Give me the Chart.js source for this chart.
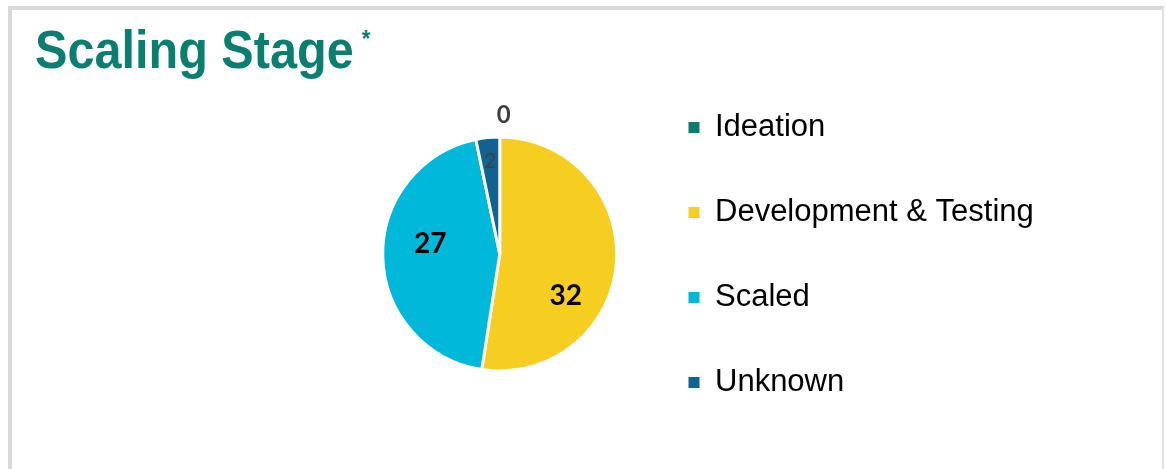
<!DOCTYPE html>
<html>
<head>
<meta charset="utf-8">
<script src="https://cdn.jsdelivr.net/npm/chart.js@4.4.1/dist/chart.umd.min.js"></script>
<style>
  html, body { margin: 0; padding: 0; background: #fff; }
  body { width: 1166px; height: 469px; position: relative; overflow: hidden; }
  .frame {
    position: absolute; left: 8px; top: 6px; width: 1150px; height: 470px;
    border-top: 4px solid #d9d9d9; border-left: 4px solid #d9d9d9; border-right: 2px solid #e0e0e0;
  }
  .title {
    position: absolute; left: 35px; top: 14px; margin: 0;
    font-family: "Liberation Sans", Arial, sans-serif; font-weight: bold;
    font-size: 54px; line-height: 54px; color: #0b7f6f; white-space: nowrap;
    transform: scaleX(0.9); transform-origin: 0 0;
  }
  .title sup { font-size: 24px; position: relative; top: -2px; margin-left: 9px; }
  #chart { position: absolute; left: 0; top: 0; }
</style>
</head>
<body>
<div class="frame"></div>
<h1 class="title">Scaling Stage<sup>*</sup></h1>
<canvas id="chart" width="1166" height="469"></canvas>
<script>
const stages = ["Ideation", "Development & Testing", "Scaled", "Unknown"];
const counts = [0, 32, 27, 2];
const stageColors = ["#0e7c6c", "#f5ce21", "#00b9da", "#12628f"];

// where each value label sits: fraction along the slice angle, fraction of radius
const labelSpots = [
  { at: 0.5, r: 1.19, dx: 4, color: "#404040", weight: "bold", size: 24 },
  { at: 0.65, r: 0.67, dx: 0, color: "#000000", weight: "bold", size: 28 },
  { at: 0.56, r: 0.6, dx: 0, color: "#000000", weight: "bold", size: 28 },
  { at: 0.5, r: 0.8, dx: 0, color: "#404040", weight: "normal", size: 21 },
];

const valueLabels = {
  id: "valueLabels",
  afterDatasetsDraw(chart) {
    const { ctx } = chart;
    const meta = chart.getDatasetMeta(0);
    meta.data.forEach((arc, i) => {
      const spot = labelSpots[i];
      const { x, y, startAngle, endAngle, outerRadius } = arc.getProps(
        ["x", "y", "startAngle", "endAngle", "outerRadius"],
        true
      );
      const a = startAngle + (endAngle - startAngle) * spot.at;
      const r = outerRadius * spot.r;
      ctx.save();
      ctx.font = `${spot.weight} ${spot.size}px Lato, "Open Sans", sans-serif`;
      ctx.fillStyle = spot.color;
      ctx.textAlign = "center";
      ctx.textBaseline = "middle";
      ctx.fillText(String(counts[i]), x + Math.cos(a) * r + spot.dx, y + Math.sin(a) * r);
      ctx.restore();
    });
  },
};

new Chart(document.getElementById("chart").getContext("2d"), {
  type: "pie",
  data: {
    labels: stages,
    datasets: [
      {
        data: counts,
        backgroundColor: stageColors,
        borderColor: "#ffffff",
        borderWidth: 3,
        radius: 117,
      },
    ],
  },
  options: {
    responsive: false,
    animation: false,
    events: [],
    layout: {
      padding: { left: 319, right: 124, top: 56, bottom: 17 },
    },
    plugins: {
      tooltip: { enabled: false },
      legend: {
        position: "right",
        align: "end",
        labels: {
          boxWidth: 11,
          boxHeight: 11,
          padding: 8,
          color: "#000000",
          font: { family: "'Liberation Sans', Arial, sans-serif", size: 31, lineHeight: "77px" },
          generateLabels(chart) {
            // one-line arrays so each row takes the font's tall line height
            return Chart.controllers.pie.overrides.plugins.legend.labels
              .generateLabels(chart)
              .map((item) => ({ ...item, text: [item.text], lineWidth: 0 }));
          },
        },
      },
    },
  },
  plugins: [valueLabels],
});
</script>
</body>
</html>
